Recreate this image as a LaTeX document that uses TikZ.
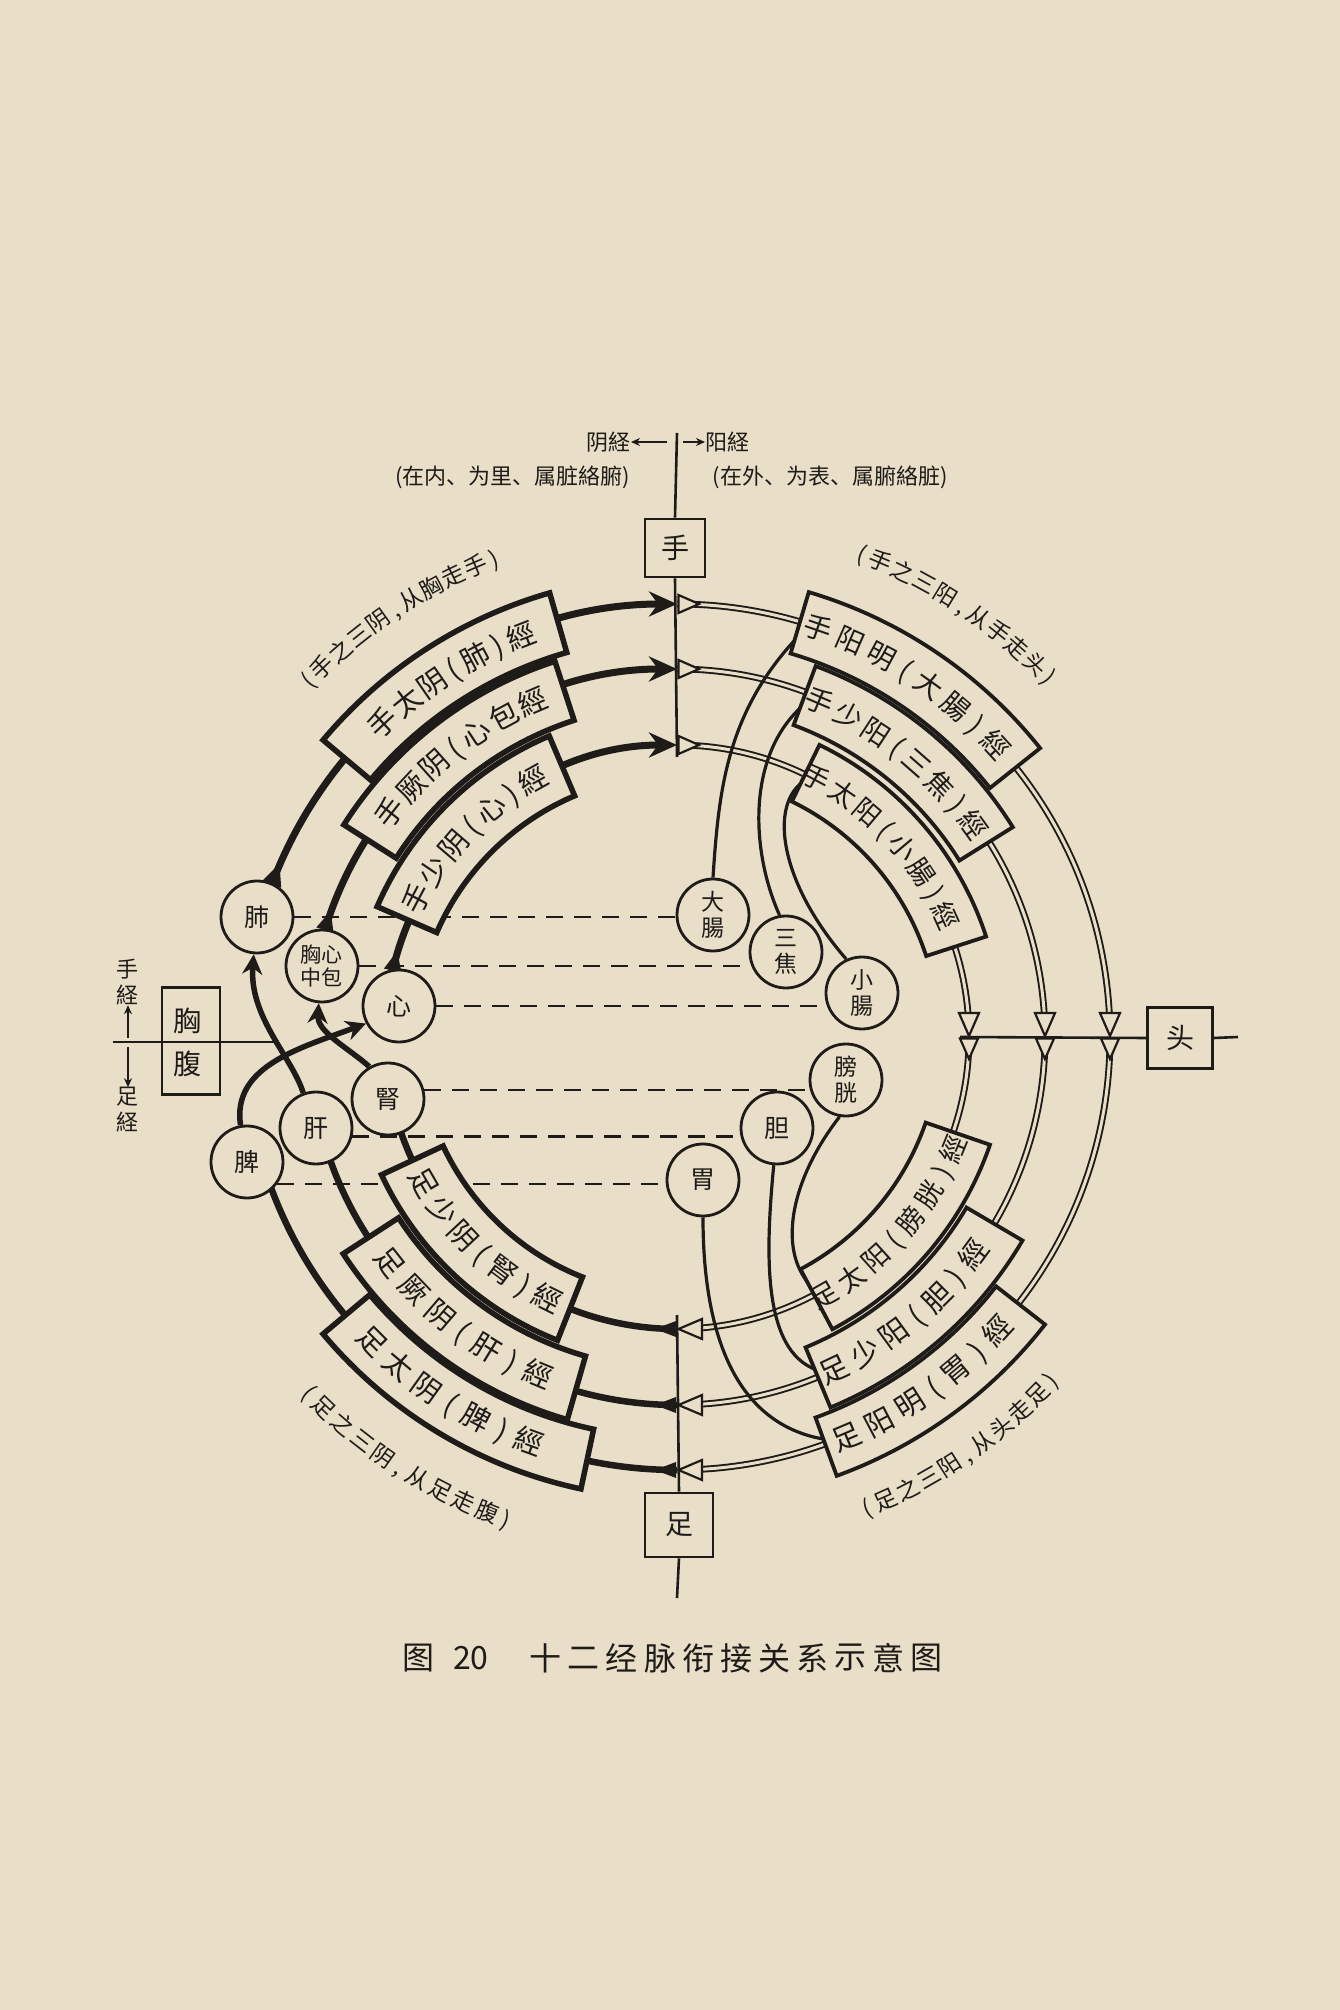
\documentclass[tikz,border=0pt]{standalone}
\usepackage{fontspec}
\newfontfamily\cjk{Noto Sans CJK SC}
\usetikzlibrary{arrows.meta}
\definecolor{paper}{RGB}{233,223,200}
\definecolor{ink}{RGB}{30,27,24}
\newcommand\fsz[1]{\fontsize{#1}{#1}\selectfont}
\newcommand\lp{(}
\newcommand\rp{)}
\newcommand\cm{,}
\pgfdeclarelayer{paperL}
\pgfdeclarelayer{lines}
\pgfdeclarelayer{boxes}
\pgfsetlayers{paperL,lines,boxes,main}
% #1 name prefix, #2 radius, #3 first angle, #4 step per full char, #5 rotation offset, #6 font size, #7 chars
\newcommand\arctxt[7]{%
  \gdef\arcacc{0}\gdef\arcprev{1}%
  \foreach \ch [count=\i] in {#7}{%
    \expandafter\ifx\ch\lp \def\arcw{0.6}\else
      \expandafter\ifx\ch\rp \def\arcw{0.6}\else
        \expandafter\ifx\ch\cm \def\arcw{0.6}\else \def\arcw{1}\fi\fi\fi
    \ifnum\i>1 \pgfmathsetmacro\arcnew{\arcacc+(\arcprev+\arcw)/2}\xdef\arcacc{\arcnew}\fi
    \xdef\arcprev{\arcw}%
    \pgfmathsetmacro\ang{#3+\arcacc*(#4)}%
    \node[name=#1\i, inner sep=0pt, text=ink, font=\cjk\fsz{#6}, text height=#6*0.86pt, text depth=#6*0.14pt, rotate=\ang#5] at (\ang:#2pt) {\ch};
  }}
% #1 style, #2 r in, #3 r out, #4 a1, #5 a2
\newcommand\secbox[5]{%
  \draw[#1] (#4:#2pt) arc[start angle=#4, end angle=#5, radius=#2pt] -- (#5:#3pt) arc[start angle=#5, end angle=#4, radius=#3pt] -- cycle;}

\begin{document}
\begin{tikzpicture}[x=1pt,y=1pt,
  organ/.style={circle, draw=ink, line width=2.8pt, fill=paper, minimum size=72pt, inner sep=0pt, text=ink, font=\cjk\fsz{25}, align=center},
  organ2/.style={organ, font=\cjk\fontsize{23}{26}\selectfont},
  sqbox/.style={draw=ink, line width=2.6pt, fill=paper, minimum width=60pt, minimum height=58pt, inner sep=0pt, font=\cjk\fsz{28}, text=ink},
  yinline/.style={draw=ink, line width=7pt},
  yinarrow/.style={-{Stealth[length=28pt,width=25pt]}},
  conn/.style={draw=ink, line width=5.5pt, -{Stealth[length=20pt,width=20pt]}},
  yangline/.style={draw=ink, line width=1.9pt, double=paper, double distance=3pt},
  branch/.style={draw=ink, line width=3.2pt},
  yinbox/.style={draw=ink, line width=5.5pt, fill=paper, line join=miter},
  yangbox/.style={draw=ink, line width=3.8pt, fill=paper, line join=miter},
  axisline/.style={draw=ink, line width=2.6pt},
  dashln/.style={draw=ink, line width=2.4pt, dash pattern=on 17pt off 11pt},
  openhead/.style={draw=ink, line width=2.2pt, fill=paper, line join=miter},
  lbl/.style={inner sep=0pt, text=ink, font=\cjk\fsz{22}},
  smallarrow/.style={draw=ink, line width=2.2pt, -{Stealth[length=9pt,width=8pt]}}
]
\begin{pgfonlayer}{paperL}
\fill[paper] (-677,1037) rectangle (663,-973);
\end{pgfonlayer}
\useasboundingbox (-677,1037) rectangle (663,-973);

% ---------- organs ----------
\node[organ] (fei) at (-420,120) {肺};
\node[organ, font=\cjk\fontsize{21}{23}\selectfont] (xinbao) at (-355,71) {胸心\\中包};
\node[organ] (xin) at (-278,31) {心};
\node[organ] (shen) at (-289,-62) {腎};
\node[organ] (gan) at (-361,-91) {肝};
\node[organ] (pi) at (-430,-125) {脾};
\node[organ2] (dachang) at (36,122) {大\\腸};
\node[organ2] (sanjiao) at (109,85) {三\\焦};
\node[organ2] (xiaochang) at (185,44) {小\\腸};
\node[organ2] (pangguang) at (169,-43) {膀\\胱};
\node[organ] (dan) at (100,-91) {胆};
\node[organ] (wei) at (26,-143) {胃};

% ---------- square boxes ----------
\node[sqbox] (shou) at (-2,489) {手};
\node[sqbox, minimum width=65pt, minimum height=61pt] (tou) at (503,-1) {头};
\node[sqbox, minimum width=68pt, minimum height=64pt] (zu) at (2,-488) {足};
\node[draw=ink, line width=2.6pt, minimum width=58pt, minimum height=107pt, inner sep=0pt] (xiongfu) at (-486,-4) {};
\node[lbl, font=\cjk\fsz{28}] (xiong) at (-489,16) {胸};
\node[lbl, font=\cjk\fsz{28}] (fu) at (-489,-27) {腹};

% ---------- axes ----------
\draw[axisline] (0,604) -- (shou.north);
\draw[axisline] (shou.south) -- (0,280);
\draw[axisline] (283,0) -- (tou.west);
\draw[axisline] (tou.east) -- (561,0);
\draw[axisline] (0,-278) -- (zu.north);
\draw[axisline] (zu.south) -- (0,-561);
\draw[axisline] (-564,-5) -- (-402,-5);

% ---------- top labels ----------
\node[lbl, anchor=east] (yinjing) at (-46,595) {阴経};
\draw[smallarrow] (-10,595) -- (yinjing.east);
\node[lbl, anchor=west] (yangjing) at (28,595) {阳経};
\draw[smallarrow] (6,595) -- (yangjing.west);
\node[lbl] (zainei) at (-164,560) {(在内、为里、属脏絡腑)};
\node[lbl] (zaiwai) at (153,560) {(在外、为表、属腑絡脏)};

% ---------- left labels ----------
\node[lbl] (sj1) at (-549,68) {手};
\node[lbl] (sj2) at (-549,42) {経};
\draw[smallarrow] (-549,-1) -- (sj2.south);
\node[lbl] (zj1) at (-549,-60) {足};
\node[lbl] (zj2) at (-549,-85) {経};
\draw[smallarrow] (-549,-10) -- (zj1.north);

% ---------- caption ----------
\node[lbl, font=\cjk\fsz{32}] (capfig) at (-258,-621) {图};
\node[lbl, font=\cjk\fsz{32}] (capnum) at (-206,-621) {20};
\foreach \c [count=\i] in {十,二,经,脉,衔,接,关,系,示,意,图}{
  \node[lbl, font=\cjk\fsz{32}, name=cap\i] at (-131+38*\i-38,-621) {\c};
}

% ---------- lines layer ----------
\begin{pgfonlayer}{lines}
\draw[dashln] (fei.east) -- (fei.east -| dachang.west);
\draw[dashln] (xinbao.east) -- (xinbao.east -| sanjiao.west);
\draw[dashln] (xin.east) -- (xin.east -| xiaochang.west);
\draw[dashln] (shen.14) -- (shen.14 -| pangguang.west);
\draw[dashln] (gan.-13) -- (gan.-13 -| dan.west);
\draw[dashln] (pi.-36) -- (pi.-36 -| wei.west);
% hand yin
\draw[yinline, yinarrow] (162:433pt) arc[start angle=162, end angle=90, radius=433pt];
\draw[yinline, yinarrow] (166:368pt) arc[start angle=166, end angle=90, radius=368pt];
\draw[yinline, yinarrow] (170:292pt) arc[start angle=170, end angle=90, radius=292pt];
% foot yin
\draw[yinline, line width=6.5pt] (270:433pt) arc[start angle=270, end angle=198, radius=433pt];
\draw[yinline, line width=6.5pt] (270:368pt) arc[start angle=270, end angle=196, radius=368pt];
\draw[yinline, line width=6.5pt] (270:292pt) arc[start angle=270, end angle=196, radius=292pt];
% connections foot yin -> hand yin
\draw[conn] (gan.110) .. controls (-385,-20) and (-428,20) .. (fei.-95);
\draw[conn] (shen.120) .. controls (-330,-10) and (-360,5) .. (xinbao.-95);
\draw[conn] (pi.100) .. controls (-445,-30) and (-380,-12) .. (xin.208);
% hand yang
\draw[yangline] (90:433pt) arc[start angle=90, end angle=3.2, radius=433pt];
\draw[yangline] (90:368pt) arc[start angle=90, end angle=3.8, radius=368pt];
\draw[yangline] (90:292pt) arc[start angle=90, end angle=4.7, radius=292pt];
% foot yang
\draw[yangline] (0:433pt) arc[start angle=0, end angle=-86.8, radius=433pt];
\draw[yangline] (0:368pt) arc[start angle=0, end angle=-86.3, radius=368pt];
\draw[yangline] (0:292pt) arc[start angle=0, end angle=-85.3, radius=292pt];
% branches to yang organs
\draw[branch] (72.5:428pt) .. controls (50,330) and (42,250) .. (dachang.north);
\draw[branch] (68.5:362pt) .. controls (70,290) and (72,190) .. (sanjiao.100);
\draw[branch] (63:290pt) .. controls (92,240) and (98,160) .. (xiaochang.115);
\draw[branch] (-61:292pt) .. controls (100,-225) and (108,-150) .. (pangguang.-100);
\draw[branch] (-66.5:365pt) .. controls (85,-320) and (88,-220) .. (dan.-95);
\draw[branch] (-69:432pt) .. controls (60,-392) and (26,-300) .. (wei.south);
\end{pgfonlayer}

% ---------- boxes layer ----------
\begin{pgfonlayer}{boxes}
\secbox{yinbox}{400}{462}{106}{140}
\secbox{yinbox}{333}{395}{108}{147.5}
\secbox{yinbox}{262}{327}{113}{156.5}
\secbox{yangbox}{400}{464}{38.5}{73.5}
\secbox{yangbox}{333}{396}{32}{69.5}
\secbox{yangbox}{262}{325}{18}{64}
\secbox{yinbox}{258}{326}{205}{248.5}
\secbox{yinbox}{332}{398}{213}{254}
\secbox{yinbox}{401}{462}{220}{258}
\secbox{yangbox}{263}{331}{-62}{-19}
\secbox{yangbox}{336}{401}{-67.5}{-30.5}
\secbox{yangbox}{405}{467}{-70}{-38}
\foreach \R in {433,368,292}{
  \draw[openhead] (1.5,\R-9) -- (1.5,\R+9) -- (22,\R) -- cycle;
  \draw[openhead] (\R,1) -- (\R-10,24) -- (\R+10,24) -- cycle;
  \draw[openhead] (\R-9,-1.5) -- (\R+9,-1.5) -- (\R,-22) -- cycle;
  \draw[openhead] (1.5,-\R) -- (25,-\R+10) -- (25,-\R-10) -- cycle;
  \fill[ink] (-1,-\R+8) -- (-1,-\R-8) -- (-22,-\R) -- cycle;
}
% small wedges where the hand-yin lines leave their organs
\fill[ink] (-395.8,149.2) -- (-414.6,156.2) -- (-397.5,173.3) -- cycle;
\fill[ink] (-343.5,104.4) -- (-360.7,109.6) -- (-346.3,126.1) -- cycle;
\fill[ink] (-275.5,64.4) -- (-293.1,68.4) -- (-279.8,85.9) -- cycle;
\end{pgfonlayer}

% ---------- box texts ----------
\arctxt{ta-}{430}{133.1}{-4.19}{-90}{29}{手,太,阴,\lp,肺,\rp,經}
\arctxt{tb-}{364}{142}{-5.13}{-90}{29}{手,厥,阴,\lp,心,包,經}
\arctxt{tc-}{294}{152}{-6.3}{-90}{29}{手,少,阴,\lp,心,\rp,經}
\arctxt{td-}{432}{70.9}{-4.58}{-90}{28}{手,阳,明,\lp,大,腸,\rp,經}
\arctxt{te-}{364}{66.9}{-5.03}{-90}{28}{手,少,阳,\lp,三,焦,\rp,經}
\arctxt{tf-}{294}{61.7}{-6.03}{-90}{27}{手,太,阳,\lp,小,腸,\rp,經}
\arctxt{tg-}{292}{210}{6.48}{+90}{29}{足,少,阴,\lp,腎,\rp,經}
\arctxt{th-}{365}{218.2}{5.65}{+90}{29}{足,厥,阴,\lp,肝,\rp,經}
\arctxt{ti-}{431}{224.9}{4.81}{+90}{29}{足,太,阴,\lp,脾,\rp,經}
\arctxt{tj-}{298}{-60.3}{6.16}{+90}{27}{足,太,阳,\lp,膀,胱,\rp,經}
\arctxt{tk-}{368}{-64.7}{5.46}{+90}{29}{足,少,阳,\lp,胆,\rp,經}
\arctxt{tl-}{435}{-67}{4.71}{+90}{29}{足,阳,明,\lp,胃,\rp,經}

% ---------- outer arc labels ----------
\arctxt{la-}{512}{136}{-2.72}{-90}{23}{\lp,手,之,三,阴,\cm,从,胸,走,手,\rp}
\arctxt{lb-}{517}{69}{-2.72}{-90}{23}{\lp,手,之,三,阳,\cm,从,手,走,头,\rp}
\arctxt{lc-}{512}{224}{2.88}{+90}{23}{\lp,足,之,三,阴,\cm,从,足,走,腹,\rp}
\arctxt{ld-}{508}{-68}{2.77}{+90}{23}{\lp,足,之,三,阳,\cm,从,头,走,足,\rp}
\end{tikzpicture}
\end{document}
